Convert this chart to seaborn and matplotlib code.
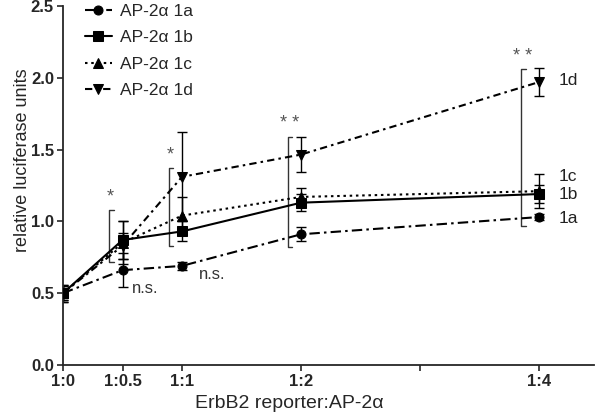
import numpy as np
import pandas as pd
import matplotlib
matplotlib.use("Agg")
import matplotlib.pyplot as plt
import seaborn as sns

# ratios ErbB2 reporter : AP-2alpha
ratio_pos = [0, 0.5, 1, 2, 4]
ratio_labels = ["1:0", "1:0.5", "1:1", "1:2", "", "1:4"]
tick_pos = [0, 0.5, 1, 2, 3, 4]

series_names = ["AP-2α 1a", "AP-2α 1b", "AP-2α 1c", "AP-2α 1d"]
short_names = ["1a", "1b", "1c", "1d"]

mean_1a = [0.50, 0.66, 0.69, 0.91, 1.03]
mean_1b = [0.50, 0.87, 0.93, 1.13, 1.19]
mean_1c = [0.50, 0.85, 1.04, 1.17, 1.21]
mean_1d = [0.50, 0.83, 1.31, 1.465, 1.97]

err_1a = [0.06, 0.12, 0.03, 0.05, 0.02]
err_1b = [0.06, 0.13, 0.07, 0.06, 0.06]
err_1c = [0.05, 0.15, 0.13, 0.06, 0.12]
err_1d = [0.05, 0.09, 0.31, 0.12, 0.10]

# significance brackets: x, y bottom, y top, label
sig_x = [0.5, 1, 2, 4]
sig_low = [0.72, 0.83, 0.82, 0.97]
sig_high = [1.08, 1.37, 1.59, 2.06]
sig_text = ["*", "*", "* *", "* *"]

means = [mean_1a, mean_1b, mean_1c, mean_1d]
errs = [err_1a, err_1b, err_1c, err_1d]
markers = ["o", "s", "^", "v"]
dashes = [(5, 2, 1.2, 2), "", (1.2, 1.8), (3.5, 2, 1.2, 2)]

sns.set_style("ticks")
plt.rcParams["font.family"] = ["Liberation Sans", "DejaVu Sans"]

rows = []
for name, m in zip(series_names, means):
    for x, y in zip(ratio_pos, m):
        rows.append({"ratio": x, "value": y, "series": name})
df = pd.DataFrame(rows)

fig = plt.figure(figsize=(6, 4.2), dpi=100)
ax = fig.add_axes([0.105, 0.131, 0.885, 0.855])

for m, e in zip(means, errs):
    ax.errorbar(ratio_pos, m, yerr=e, fmt="none", ecolor="black",
                elinewidth=1, capsize=3.5, capthick=1, zorder=2)

sns.lineplot(data=df, x="ratio", y="value", hue="series", style="series",
             markers=dict(zip(series_names, markers)),
             dashes=dict(zip(series_names, dashes)),
             palette=["black"] * 4, linewidth=1.5, markersize=6.5,
             markeredgecolor="black", ax=ax, zorder=3)

# brackets and stars
for x, lo, hi, t in zip(sig_x, sig_low, sig_high, sig_text):
    bx = x - (0.15 if x == 4 else 0.11)
    ax.plot([bx + 0.035, bx, bx, bx + 0.035], [lo, lo, hi, hi],
            color="#333333", linewidth=1, zorder=1)
    ax.text(bx + 0.01, hi + 0.03, t, ha="center", va="bottom",
            fontsize=13, color="#555555")

ax.text(0.58, 0.535, "n.s.", fontsize=12, va="center", ha="left", color="#333333")
ax.text(1.14, 0.63, "n.s.", fontsize=12, va="center", ha="left", color="#333333")

end_y = [1.02, 1.19, 1.31, 1.98]
for s, y in zip(short_names, end_y):
    ax.text(4.16, y, s, fontsize=12.5, va="center", ha="left", color="#222222")

ax.set_xlim(0, 4.46)
ax.set_ylim(0, 2.5)
ax.set_xticks(tick_pos)
ax.set_xticklabels(ratio_labels, fontsize=12, fontweight="bold")
ax.set_yticks(np.arange(0, 2.51, 0.5))
ax.set_yticklabels([f"{v:.1f}" for v in np.arange(0, 2.51, 0.5)],
                   fontsize=12, fontweight="bold")
ax.tick_params(length=4, width=1.2, direction="out", pad=2.5)
for sp in ["left", "bottom"]:
    ax.spines[sp].set_linewidth(1.3)
sns.despine(ax=ax)

ax.set_xlabel("ErbB2 reporter:AP-2α", fontsize=14)
ax.set_ylabel("relative luciferase units", fontsize=13)
ax.xaxis.set_label_coords(0.427, -0.083)
ax.yaxis.set_label_coords(-0.06, 0.571)

leg = ax.legend(loc="upper left", bbox_to_anchor=(0.028, 1.025), frameon=False,
                fontsize=12.5, handlelength=1.55, handletextpad=0.46,
                labelspacing=0.65, borderaxespad=0)

fig.savefig("out.png", dpi=100)
